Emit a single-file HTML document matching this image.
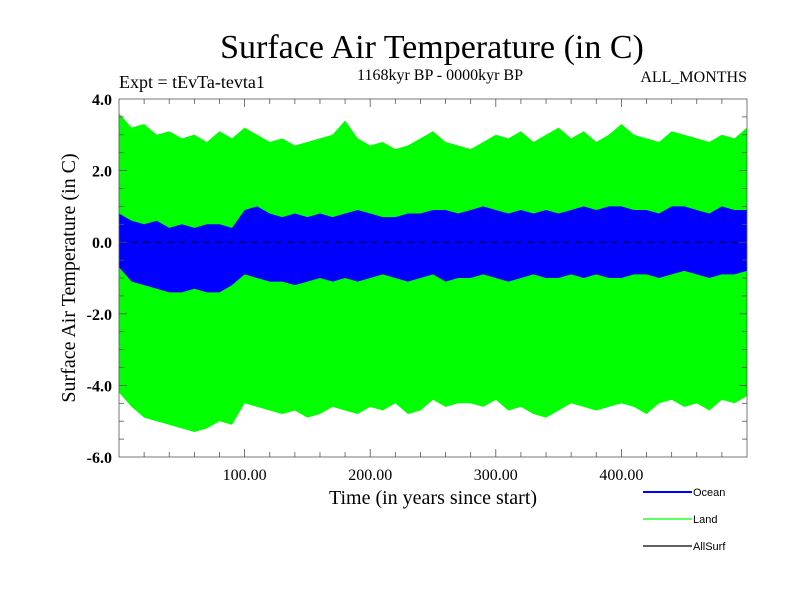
<!DOCTYPE html>
<html><head><meta charset="utf-8"><style>
body{margin:0;background:#fff;}
svg{display:block;}
text{font-family:"Liberation Serif",serif;fill:#000;}
</style></head><body>
<svg id="chart" width="800" height="600">
<text x="432" y="58" font-size="34" text-anchor="middle">Surface Air Temperature (in C)</text>
<text x="119" y="88" font-size="18">Expt = tEvTa-tevta1</text>
<text x="440" y="80" font-size="16" text-anchor="middle">1168kyr BP - 0000kyr BP</text>
<text x="747" y="82" font-size="16" text-anchor="end">ALL_MONTHS</text>
<g id="plot"></g>
<text x="433" y="504" font-size="20" text-anchor="middle">Time (in years since start)</text>
<text transform="translate(75,278) rotate(-90)" font-size="20" text-anchor="middle">Surface Air Temperature (in C)</text>
<g>
<line x1="643" y1="492" x2="692" y2="492" stroke="#0000ff" stroke-width="2"/>
<text x="693" y="496" font-size="11" style="font-family:'Liberation Sans',sans-serif">Ocean</text>
<line x1="643" y1="519" x2="692" y2="519" stroke="#00ff00" stroke-width="1.2"/>
<text x="693" y="523" font-size="11" style="font-family:'Liberation Sans',sans-serif">Land</text>
<line x1="643" y1="546" x2="692" y2="546" stroke="#000" stroke-width="1.2"/>
<text x="693" y="550" font-size="11" style="font-family:'Liberation Sans',sans-serif">AllSurf</text>
</g>
</svg>
<script>
const years = [0,10,20,30,40,50,60,70,80,90,100,110,120,130,140,150,160,170,180,190,200,210,220,230,240,250,260,270,280,290,300,310,320,330,340,350,360,370,380,390,400,410,420,430,440,450,460,470,480,490,500];
const landMax = [3.6,3.2,3.3,3.0,3.1,2.9,3.0,2.8,3.1,2.9,3.2,3.0,2.8,2.9,2.7,2.8,2.9,3.0,3.4,2.9,2.7,2.8,2.6,2.7,2.9,3.1,2.8,2.7,2.6,2.8,3.0,2.9,3.1,2.8,3.0,3.2,2.9,3.1,2.8,3.0,3.3,3.0,2.9,2.8,3.1,3.0,2.9,2.8,3.0,2.9,3.2];
const landMin = [-4.2,-4.6,-4.9,-5.0,-5.1,-5.2,-5.3,-5.2,-5.0,-5.1,-4.5,-4.6,-4.7,-4.8,-4.7,-4.9,-4.8,-4.6,-4.7,-4.8,-4.6,-4.7,-4.5,-4.8,-4.7,-4.4,-4.6,-4.5,-4.5,-4.6,-4.4,-4.7,-4.6,-4.8,-4.9,-4.7,-4.5,-4.6,-4.7,-4.6,-4.5,-4.6,-4.8,-4.5,-4.4,-4.6,-4.5,-4.7,-4.4,-4.5,-4.3];
const oceanMax = [0.8,0.6,0.5,0.6,0.4,0.5,0.4,0.5,0.5,0.4,0.9,1.0,0.8,0.7,0.8,0.7,0.8,0.7,0.8,0.9,0.8,0.7,0.7,0.8,0.8,0.9,0.9,0.8,0.9,1.0,0.9,0.8,0.9,0.8,0.9,0.8,0.9,1.0,0.9,1.0,1.0,0.9,0.9,0.8,1.0,1.0,0.9,0.8,1.0,0.9,0.9];
const oceanMin = [-0.7,-1.1,-1.2,-1.3,-1.4,-1.4,-1.3,-1.4,-1.4,-1.2,-0.9,-1.0,-1.1,-1.1,-1.2,-1.1,-1.0,-1.1,-1.0,-1.1,-1.0,-0.9,-1.0,-1.1,-1.0,-0.9,-1.1,-1.0,-1.0,-0.9,-1.0,-1.1,-1.0,-0.9,-1.0,-1.0,-0.9,-1.0,-0.9,-1.0,-1.0,-0.9,-0.9,-1.0,-0.9,-0.8,-0.9,-1.0,-0.9,-0.9,-0.8];
const xTickVals = [100,200,300,400];
const xTickLabels = ["100.00","200.00","300.00","400.00"];
const yTickVals = [4,2,0,-2,-4,-6];
const yTickLabels = ["4.0","2.0","0.0","-2.0","-4.0","-6.0"];

const L=119,R=747,T=99,B=457,XMIN=0,XMAX=500,YMIN=-6,YMAX=4;
const sx=v=>L+(v-XMIN)/(XMAX-XMIN)*(R-L);
const sy=v=>B-(v-YMIN)/(YMAX-YMIN)*(B-T);
const NS="http://www.w3.org/2000/svg";
const g=document.getElementById('plot');
function mk(tag,attrs){const e=document.createElementNS(NS,tag);for(const k in attrs)e.setAttribute(k,attrs[k]);g.appendChild(e);return e;}
function band(hi,lo){let p=[];for(let i=0;i<years.length;i++)p.push(sx(years[i])+','+sy(hi[i]));for(let i=years.length-1;i>=0;i--)p.push(sx(years[i])+','+sy(lo[i]));return p.join(' ');}
const land=mk('polygon',{points:band(landMax,landMin),fill:'#00ff00'});


const ocean=mk('polygon',{points:band(oceanMax,oceanMin),fill:'#0000ff'});


const zl=mk('line',{x1:L,x2:R,y1:sy(0),y2:sy(0),stroke:'#000','stroke-width':1,'stroke-dasharray':'7,5'});


const frame=mk('rect',{x:L,y:T,width:R-L,height:B-T,fill:'none',stroke:'#555','stroke-width':0.8});


for(let v=20;v<XMAX;v+=20){const x=sx(v),len=(v%100===0)?8:5;
 mk('line',{x1:x,x2:x,y1:B,y2:B-len,stroke:'#555','stroke-width':0.8});mk('line',{x1:x,x2:x,y1:T,y2:T+len,stroke:'#555','stroke-width':0.8});}
for(let v=-5.5;v<4;v+=0.5){const y=sy(v),len=(Math.abs(v%2)<1e-9)?8:5;
 mk('line',{x1:L,x2:L+len,y1:y,y2:y,stroke:'#555','stroke-width':0.8});mk('line',{x1:R,x2:R-len,y1:y,y2:y,stroke:'#555','stroke-width':0.8});}
xTickVals.forEach((v,i)=>{const t=mk('text',{x:sx(v),y:B+23,'font-size':16,'text-anchor':'middle'});t.textContent=xTickLabels[i];
 
 });
yTickVals.forEach((v,i)=>{const t=mk('text',{x:L-7,y:sy(v)+6,'font-size':16,'text-anchor':'end','font-weight':'bold'});t.textContent=yTickLabels[i];
 
 });
</script>
</body></html>
